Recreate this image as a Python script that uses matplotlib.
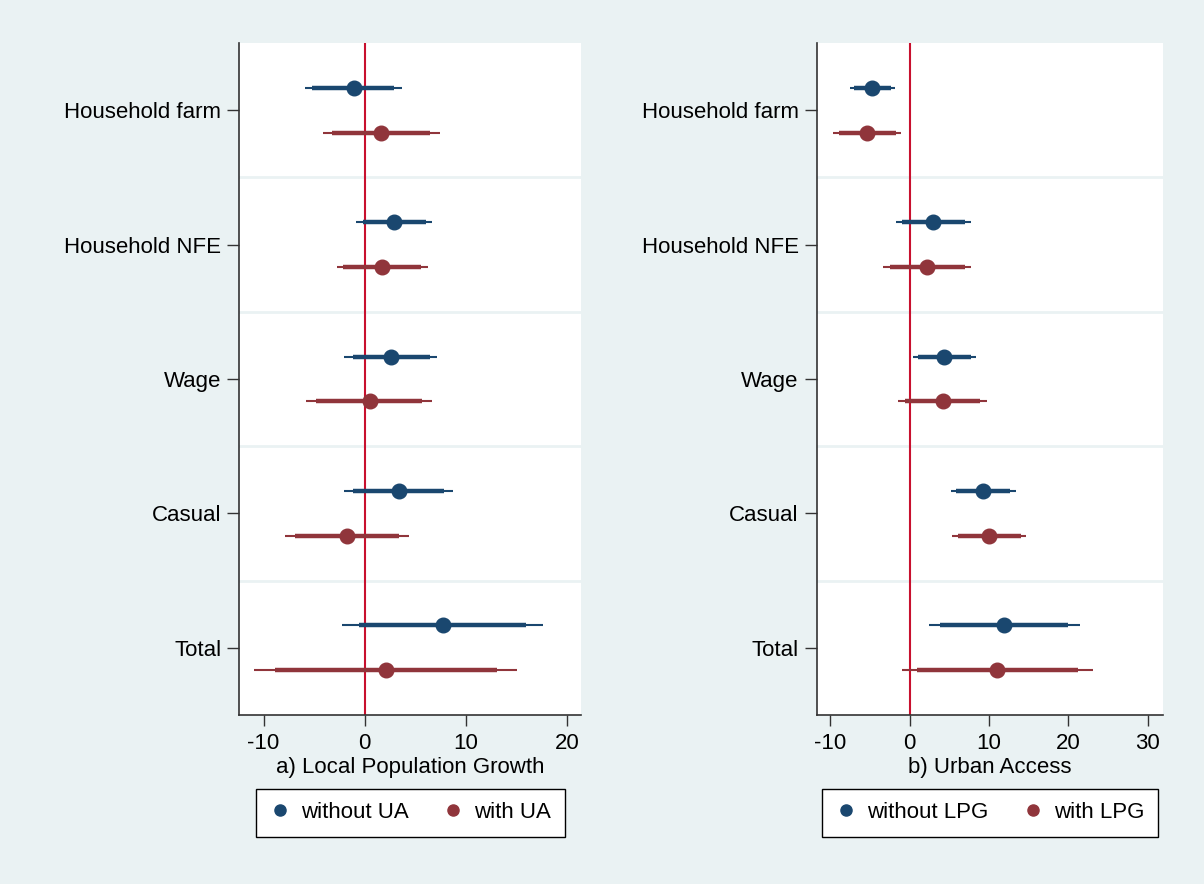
import numpy as np
import matplotlib
matplotlib.use("Agg")
import matplotlib.pyplot as plt
from matplotlib.lines import Line2D

plt.rcParams['font.family'] = ['Liberation Sans', 'DejaVu Sans']

categories = ["Household farm", "Household NFE", "Wage", "Casual", "Total"]

# panel a) Local Population Growth
a_blue_est = [-1.1, 2.9, 2.6, 3.4, 7.7]
a_blue_lo90 = [-5.2, -0.2, -1.2, -1.2, -0.6]
a_blue_hi90 = [2.9, 6.1, 6.5, 7.8, 16.0]
a_blue_lo95 = [-5.9, -0.9, -2.0, -2.0, -2.2]
a_blue_hi95 = [3.7, 6.7, 7.2, 8.7, 17.6]

a_red_est = [1.6, 1.7, 0.5, -1.8, 2.1]
a_red_lo90 = [-3.2, -2.1, -4.8, -6.9, -8.9]
a_red_hi90 = [6.5, 5.6, 5.7, 3.4, 13.1]
a_red_lo95 = [-4.1, -2.7, -5.8, -7.9, -11.0]
a_red_hi95 = [7.4, 6.3, 6.7, 4.4, 15.1]

# panel b) Urban Access
b_blue_est = [-4.7, 3.0, 4.4, 9.2, 11.9]
b_blue_lo90 = [-7.0, -1.0, 1.1, 5.8, 3.9]
b_blue_hi90 = [-2.3, 7.0, 7.7, 12.7, 20.0]
b_blue_lo95 = [-7.5, -1.7, 0.5, 5.2, 2.4]
b_blue_hi95 = [-1.8, 7.7, 8.4, 13.4, 21.5]

b_red_est = [-5.4, 2.2, 4.2, 10.0, 11.0]
b_red_lo90 = [-8.9, -2.4, -0.6, 6.1, 0.9]
b_red_hi90 = [-1.7, 7.0, 8.9, 14.0, 21.2]
b_red_lo95 = [-9.6, -3.3, -1.4, 5.4, -1.0]
b_red_hi95 = [-1.1, 7.8, 9.8, 14.7, 23.1]

BLUE = "#1a476f"
RED = "#90353b"
ZERO = "#c8102e"
BG = "#eaf2f3"
FS = 16


def draw_series(ax, ypos, est, lo90, hi90, lo95, hi95, color):
    ax.hlines(ypos, lo95, hi95, color=color, lw=1.5, zorder=3)
    ax.hlines(ypos, lo90, hi90, color=color, lw=3.2, zorder=4)
    ax.plot(est, ypos, "o", color=color, ms=10.5, mec=color, zorder=5)


def make_panel(ax, blue, red, xlim, xticks, xlabel, labels):
    y = np.arange(1, len(categories) + 1)
    off = 1.0 / 6.0
    ax.set_facecolor("white")
    for sep in np.arange(1.5, len(categories), 1.0):
        ax.axhline(sep, color=BG, lw=2, zorder=1)
    ax.axvline(0, color=ZERO, lw=1.5, zorder=2)
    draw_series(ax, y - off, *blue, BLUE)
    draw_series(ax, y + off, *red, RED)

    ax.set_ylim(len(categories) + 0.5, 0.5)
    ax.set_xlim(*xlim)
    ax.set_yticks(y)
    ax.set_yticklabels(categories, fontsize=FS)
    ax.set_xticks(xticks)
    ax.set_xticklabels([str(t) for t in xticks], fontsize=FS)
    ax.set_xlabel(xlabel, fontsize=FS, labelpad=2)
    ax.tick_params(axis="y", length=9, width=1, color="#333333", pad=4)
    ax.tick_params(axis="x", length=8, width=1, color="#333333", pad=5)
    for s in ["top", "right"]:
        ax.spines[s].set_visible(False)
    for s in ["left", "bottom"]:
        ax.spines[s].set_color("#333333")
        ax.spines[s].set_linewidth(1.2)

    handles = [Line2D([], [], ls="none", marker="o", ms=8, color=BLUE),
               Line2D([], [], ls="none", marker="o", ms=8, color=RED)]
    leg = ax.legend(handles, labels, loc="upper center", bbox_to_anchor=(0.5, -0.110),
                    ncol=2, fontsize=FS, frameon=True, fancybox=False,
                    edgecolor="black", framealpha=1, handletextpad=0.45,
                    columnspacing=1.5, borderpad=0.6, handlelength=1.0,
                    borderaxespad=0)
    leg.get_frame().set_linewidth(1.0)


fig = plt.figure(figsize=(12.04, 8.84), dpi=100)
fig.patch.set_facecolor(BG)

ax1 = fig.add_axes([0.1988, 0.1912, 0.2838, 0.7601])
ax2 = fig.add_axes([0.6783, 0.1912, 0.2874, 0.7601])

make_panel(ax1,
           (a_blue_est, a_blue_lo90, a_blue_hi90, a_blue_lo95, a_blue_hi95),
           (a_red_est, a_red_lo90, a_red_hi90, a_red_lo95, a_red_hi95),
           (-12.4, 21.4), [-10, 0, 10, 20], "a) Local Population Growth",
           ["without UA", "with UA"])
make_panel(ax2,
           (b_blue_est, b_blue_lo90, b_blue_hi90, b_blue_lo95, b_blue_hi95),
           (b_red_est, b_red_lo90, b_red_hi90, b_red_lo95, b_red_hi95),
           (-11.7, 31.9), [-10, 0, 10, 20, 30], "b) Urban Access",
           ["without LPG", "with LPG"])

fig.savefig("out.png", dpi=100, facecolor=BG)
